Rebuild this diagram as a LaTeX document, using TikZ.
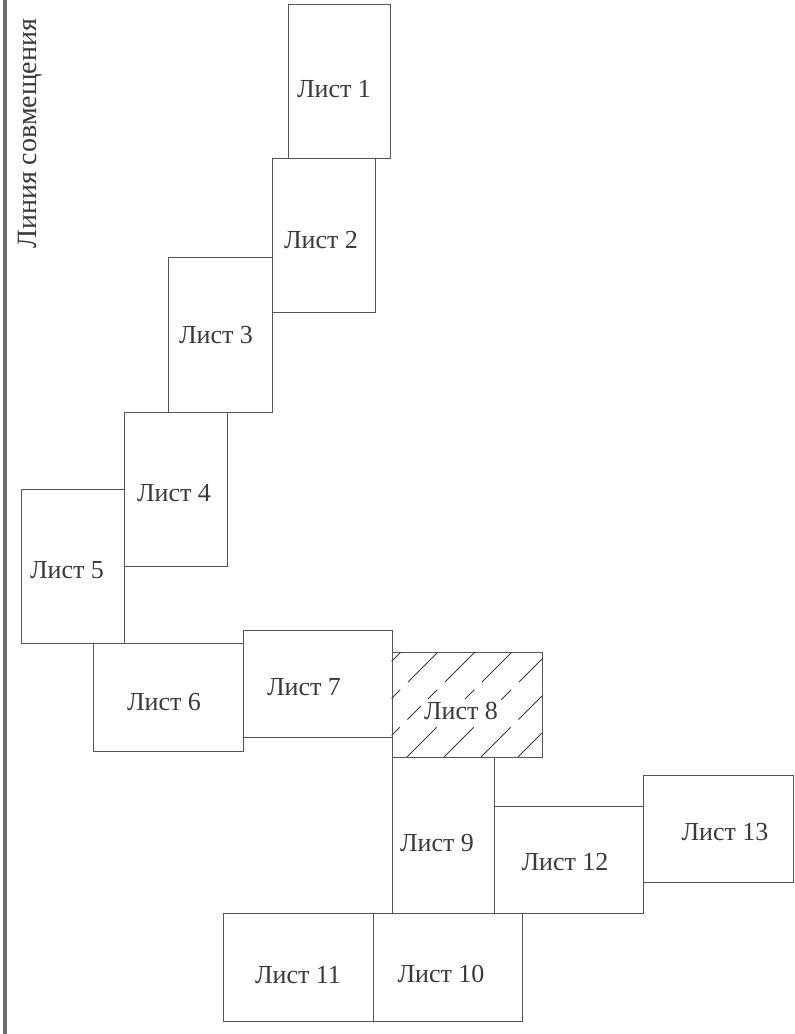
\documentclass[tikz,border=0pt]{standalone}
\usepackage{fontspec}
\setmainfont{Liberation Serif}
\usetikzlibrary{calc}
\definecolor{linegray}{HTML}{555555}
\definecolor{textgray}{HTML}{3A3A3A}
\definecolor{bargray}{HTML}{6E6E6E}
\begin{document}
\begin{tikzpicture}[x=1pt,y=-1pt,
  sheet/.style={draw=linegray, line width=0.8pt, rectangle, inner sep=0pt},
  lbl/.style={font=\fontsize{26}{30}\selectfont, text=textgray, inner sep=1pt},
  rot/.style={font=\fontsize{28}{32}\selectfont, text=textgray, inner sep=0pt, rotate=90},
  hatch/.style={draw=textgray, line width=1pt, dash pattern=on 42pt off 11pt},
]
\clip (0,0) rectangle (795,1034);
\fill[white] (0,0) rectangle (795,1034);

% sheets
\node[sheet, minimum width=102pt, minimum height=154pt] (s1) at (339,81) {};
\node[sheet, minimum width=103pt, minimum height=154pt] (s2) at (323.5,235) {};
\node[sheet, minimum width=104pt, minimum height=155pt] (s3) at (220,334.5) {};
\node[sheet, minimum width=103pt, minimum height=154pt] (s4) at (175.5,489) {};
\node[sheet, minimum width=103pt, minimum height=154pt] (s5) at (72.5,566) {};
\node[sheet, minimum width=150pt, minimum height=108pt] (s6) at (168,697) {};
\node[sheet, minimum width=149pt, minimum height=107pt] (s7) at (317.5,683.5) {};
\node[sheet, minimum width=150pt, minimum height=105pt] (s8) at (467,704.5) {};
\node[sheet, minimum width=102pt, minimum height=156pt] (s9) at (443,835) {};
\node[sheet, minimum width=149pt, minimum height=108pt] (s10) at (447.5,967) {};
\node[sheet, minimum width=150pt, minimum height=108pt] (s11) at (298,967) {};
\node[sheet, minimum width=149pt, minimum height=107pt] (s12) at (568.5,859.5) {};
\node[sheet, minimum width=150pt, minimum height=107pt] (s13) at (718,828.5) {};

% hatching of sheet 8
\begin{scope}
  \clip (s8.south west) rectangle (s8.north east);
  \foreach \b in {296,333,...,530}
    \draw[hatch] (\b,757) -- ++(105,-105);
\end{scope}

% labels
\node[lbl] (t1) at (334,89) {Лист 1};
\node[lbl] (t2) at (321,240) {Лист 2};
\node[lbl] (t3) at (216,335) {Лист 3};
\node[lbl] (t4) at (174,493) {Лист 4};
\node[lbl] (t5) at (67,570) {Лист 5};
\node[lbl] (t6) at (164,702) {Лист 6};
\node[lbl] (t7) at (304,687) {Лист 7};
\node[lbl, fill=white, inner sep=3pt] (t8) at (461,711) {Лист 8};
\node[lbl] (t9) at (437,843) {Лист 9};
\node[lbl] (t10) at (441,974) {Лист 10};
\node[lbl] (t11) at (298,975) {Лист 11};
\node[lbl] (t12) at (565,862) {Лист 12};
\node[lbl] (t13) at (725,832) {Лист 13};

% alignment line caption
\node[rot, anchor=base west] (cap) at (36.5,249) {Линия совмещения};

% thick binding line at the left edge
\coordinate (bt) at (5,0);
\coordinate (bb) at (5,1034);
\draw[bargray, line width=4pt] (bt) -- (bb);
\end{tikzpicture}
\end{document}
